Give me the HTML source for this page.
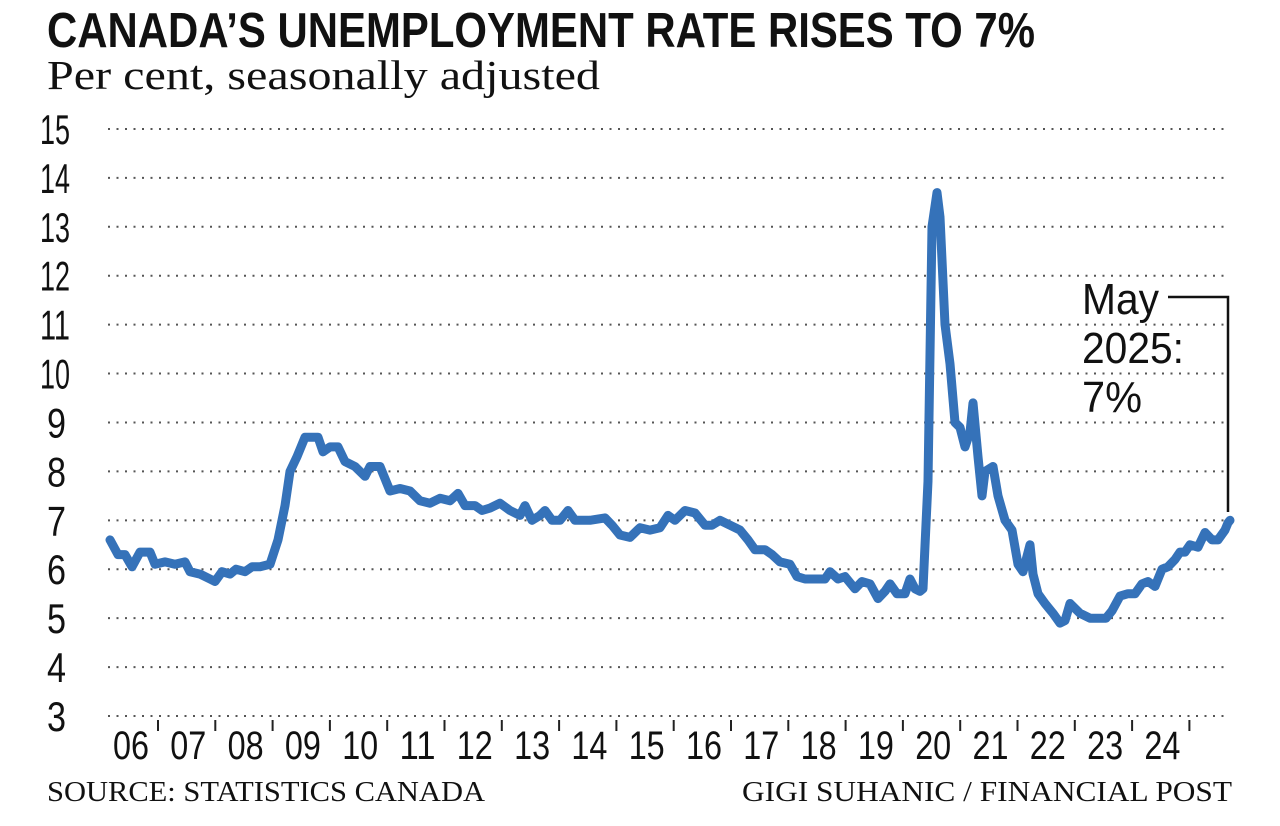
<!DOCTYPE html>
<html><head><meta charset="utf-8"><style>
html,body{margin:0;padding:0;background:#fff;width:1280px;height:826px;overflow:hidden}
</style></head><body>
<svg id="s" width="1280" height="826" xmlns="http://www.w3.org/2000/svg">
<text x="47" y="47" font-family="Liberation Sans Narrow, Liberation Sans, sans-serif" font-weight="bold" font-size="49" textLength="988" lengthAdjust="spacingAndGlyphs" fill="#111">CANADA’S UNEMPLOYMENT RATE RISES TO 7%</text>
<text x="47" y="89" font-family="Liberation Serif, serif" font-size="41" textLength="553" lengthAdjust="spacingAndGlyphs" fill="#111">Per cent, seasonally adjusted</text>
<g id="grid" stroke="#555" stroke-width="2" stroke-dasharray="2,6.5"></g>
<g id="ylab" font-family="Liberation Sans Narrow, Liberation Sans, sans-serif" font-size="42" fill="#111"></g>
<g id="xlab" font-family="Liberation Sans Narrow, Liberation Sans, sans-serif" font-size="40" fill="#111"></g>
<g id="ticks" stroke="#222" stroke-width="2"></g>
<polyline id="line" fill="none" stroke="#3572b9" stroke-width="9" stroke-linejoin="round" stroke-linecap="round"/>
<polyline points="1168,297 1228,297 1228,512" fill="none" stroke="#111" stroke-width="2.5"/>
<g font-family="Liberation Sans Narrow, Liberation Sans, sans-serif" font-size="44" fill="#111">
<text x="1082" y="314" textLength="77" lengthAdjust="spacingAndGlyphs">May</text>
<text x="1082" y="363" textLength="102" lengthAdjust="spacingAndGlyphs">2025:</text>
<text x="1082" y="412" textLength="60" lengthAdjust="spacingAndGlyphs">7%</text>
</g>
<text x="47" y="801" font-family="Liberation Serif, serif" font-size="28" textLength="438" lengthAdjust="spacingAndGlyphs" fill="#111">SOURCE: STATISTICS CANADA</text>
<text x="742" y="801" font-family="Liberation Serif, serif" font-size="28" textLength="490" lengthAdjust="spacingAndGlyphs" fill="#111">GIGI SUHANIC / FINANCIAL POST</text>
</svg>
<script>
var NS="http://www.w3.org/2000/svg";
function Y(v){return 716-(v-3)*48.92;}
var g=document.getElementById('grid'),yl=document.getElementById('ylab');
for(var v=3;v<=15;v++){var l=document.createElementNS(NS,'line');l.setAttribute('x1',108);l.setAttribute('x2',1230);l.setAttribute('y1',Y(v));l.setAttribute('y2',Y(v));g.appendChild(l);
var t=document.createElementNS(NS,'text');t.setAttribute('x',v>=10?40:47);t.setAttribute('y',Y(v)+15);t.textContent=v;t.setAttribute('textLength',v>=10?30:19);t.setAttribute('lengthAdjust','spacingAndGlyphs');yl.appendChild(t);}
var xl=document.getElementById('xlab'),tk=document.getElementById('ticks');
var yrs=['06','07','08','09','10','11','12','13','14','15','16','17','18','19','20','21','22','23','24'];
for(var i=0;i<yrs.length;i++){var c=131+57.3*i;var t=document.createElementNS(NS,'text');t.setAttribute('x',c);t.setAttribute('y',759);t.setAttribute('text-anchor','middle');t.setAttribute('textLength',36);t.setAttribute('lengthAdjust','spacingAndGlyphs');t.textContent=yrs[i];xl.appendChild(t);
var l=document.createElementNS(NS,'line');var tx=c+27;l.setAttribute('x1',tx);l.setAttribute('x2',tx);l.setAttribute('y1',720);l.setAttribute('y2',731);tk.appendChild(l);}
var d=[110,6.6,118,6.3,125,6.3,132,6.05,140,6.35,150,6.35,155,6.1,165,6.15,175,6.1,185,6.15,190,5.95,200,5.9,210,5.8,215,5.75,222,5.95,230,5.9,236,6.0,245,5.95,252,6.05,260,6.05,270,6.1,278,6.6,285,7.3,290,8.0,297,8.3,305,8.7,312,8.7,318,8.7,323,8.4,330,8.5,338,8.5,345,8.2,355,8.1,365,7.9,370,8.1,380,8.1,390,7.6,400,7.65,410,7.6,420,7.4,430,7.35,440,7.45,450,7.4,458,7.55,465,7.3,475,7.3,482,7.2,490,7.25,500,7.35,510,7.2,520,7.1,525,7.3,532,7.0,540,7.1,545,7.2,552,7.0,560,7.0,568,7.2,575,7.0,590,7.0,605,7.05,612,6.9,620,6.7,630,6.65,640,6.85,650,6.8,660,6.85,668,7.1,675,7.0,685,7.2,695,7.15,705,6.9,712,6.9,720,7.0,730,6.9,740,6.8,748,6.6,755,6.4,765,6.4,772,6.3,780,6.15,790,6.1,797,5.85,805,5.8,815,5.8,825,5.8,830,5.95,838,5.8,845,5.85,855,5.6,862,5.75,870,5.7,878,5.4,885,5.55,890,5.7,897,5.5,905,5.5,910,5.8,915,5.6,920,5.55,923,5.6,928,7.8,932,13.0,937,13.7,940,13.2,945,11.0,950,10.2,955,9.0,960,8.9,965,8.5,970,8.8,973,9.4,978,8.3,982,7.5,985,8.0,993,8.1,998,7.5,1005,7.0,1012,6.8,1018,6.1,1023,5.95,1030,6.5,1033,5.9,1038,5.5,1045,5.3,1053,5.1,1060,4.9,1065,4.95,1070,5.3,1080,5.1,1090,5.0,1100,5.0,1106,5.0,1112,5.15,1120,5.45,1128,5.5,1135,5.5,1142,5.7,1148,5.75,1155,5.65,1162,6.0,1168,6.05,1175,6.2,1180,6.35,1185,6.35,1190,6.5,1198,6.45,1205,6.75,1212,6.6,1218,6.6,1225,6.8,1228,6.95,1230,7.0];
var p=[];for(var i=0;i<d.length;i+=2)p.push(d[i]+','+Y(d[i+1]).toFixed(1));
document.getElementById('line').setAttribute('points',p.join(' '));
</script>
</body></html>
